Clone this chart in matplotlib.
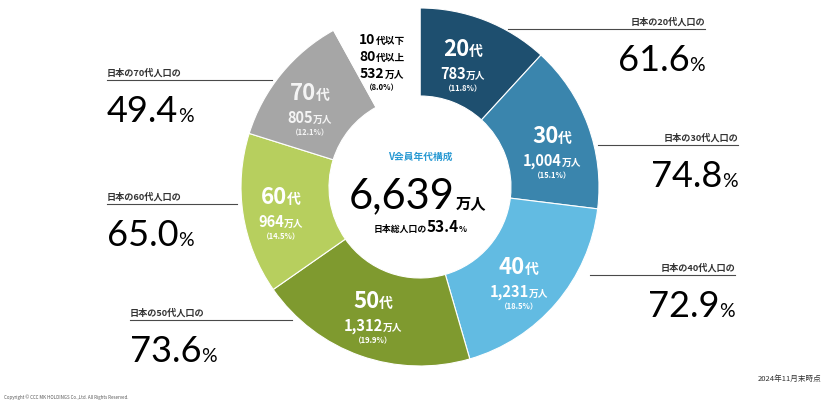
import matplotlib
matplotlib.use("Agg")
import matplotlib.pyplot as plt

plt.rcParams["font.family"] = ["Noto Sans CJK JP", "DejaVu Sans"]

# V会員 年代構成 (万人)
groups = ["20代", "30代", "40代", "50代", "60代", "70代", "10代以下\n80代以上"]
members = [783, 1004, 1231, 1312, 964, 805, 532]
shares = ["11.8%", "15.1%", "18.5%", "19.9%", "14.5%", "12.1%", "8.0%"]
colors = ["#1e4f6f", "#3a85ad", "#62bbe2", "#7f9a2f", "#b7cf5e", "#a6a6a6", "none"]

# 日本の各年代人口に占める割合
japan_labels = ["日本の20代人口の", "日本の30代人口の", "日本の40代人口の",
                "日本の50代人口の", "日本の60代人口の", "日本の70代人口の"]
japan_pct = ["61.6", "74.8", "72.9", "73.6", "65.0", "49.4"]

total = "6,639"
total_share = "53.4"

W, H = 823, 401
fig = plt.figure(figsize=(W / 100, H / 100), dpi=100)
ax = fig.add_axes([0, 0, 1, 1])


def Y(py):
    return H - py


cx, cy, R = 420, 187, 179
ax.pie(members, colors=colors, startangle=90, counterclock=False,
       center=(cx, Y(cy)), radius=R,
       wedgeprops=dict(width=88, edgecolor="white", linewidth=0.8))
ax.set_xlim(0, W)
ax.set_ylim(0, H)
ax.axis("off")

renderer = fig.canvas.get_renderer()


def run(x, py, parts, ha="center", color="black"):
    """parts: list of (text, size, weight, family) drawn on one baseline"""
    texts = [ax.text(0, Y(py), s, fontsize=sz, fontweight=wt, color=color,
                     va="baseline", ha="left", family=fam)
             for s, sz, wt, fam in parts]
    widths = [t.get_window_extent(renderer).width for t in texts]
    tot = sum(widths)
    if ha == "center":
        x0 = x - tot / 2
    elif ha == "right":
        x0 = x - tot
    else:
        x0 = x
    for t, w in zip(texts, widths):
        t.set_x(x0)
        x0 += w
    return texts


JP = ["Noto Sans CJK JP", "DejaVu Sans"]
NUM = ["Lato", "Noto Sans CJK JP"]

# labels inside the ring
label_pos = [(463, 56), (552, 143), (519, 274), (373, 308), (281, 204), (310, 100)]
label_col = ["white"] * 5 + ["#f4f4f4"]
for (x, py), g, m, s, c in zip(label_pos, groups, members, shares, label_col):
    run(x, py, [(g[:2], 16, "bold", JP), (g[2:], 10, "bold", JP)], color=c)
    run(x, py + 23, [(f"{m:,}", 10.5, "bold", JP), ("万人", 7, "bold", JP)], color=c)
    ax.text(x, Y(py + 35), f"（{s}）", fontsize=5.5, fontweight="bold",
            color=c, ha="center", va="baseline")

# 10代以下 / 80代以上 (gap)
gx = 382
for i, line in enumerate(groups[6].split("\n")):
    run(gx, 44 + i * 17, [(line[:2], 10, "bold", JP), (line[2:], 7, "bold", JP)])
run(gx, 78, [(f"{members[6]:,}", 10, "bold", JP), ("万人", 7, "bold", JP)])
ax.text(gx, Y(90), f"（{shares[6]}）", fontsize=5.5, fontweight="bold",
        ha="center", va="baseline")

# centre
ax.text(cx, Y(160), "V会員年代構成", fontsize=7, fontweight="bold",
        color="#2a9ad3", ha="center", va="baseline")
run(455, 208, [(total, 30, "normal", NUM)], ha="right")
run(456, 208, [("万人", 11, "bold", JP)], ha="left")
run(cx, 232, [("日本総人口の", 6.4, "bold", JP), (total_share, 11, "bold", JP),
              ("%", 6, "bold", JP)])

# outside annotations: (label index, line x0, line x1, line y, side)
outer = [(0, 508, 705, 29, "right"), (1, 598, 738, 145, "right"),
         (2, 590, 735, 275, "right"), (3, 130, 292, 320, "left"),
         (4, 107, 237, 204, "left"), (5, 107, 272, 80, "left")]
for i, x0, x1, ly, side in outer:
    ax.plot([x0, x1], [Y(ly), Y(ly)], color="#4a4a4a", lw=0.8)
    tx = x1 if side == "right" else x0
    ax.text(tx, Y(ly - 4), japan_labels[i], fontsize=6.6, fontweight="bold",
            color="#333333", ha=side, va="baseline")
    run(tx, ly + 42, [(japan_pct[i], 26, "normal", NUM), ("%", 14, "normal", NUM)],
        ha=side)

ax.text(W - 2, Y(381), "2024年11月末時点", fontsize=5.5, ha="right", va="baseline",
        color="#333333")
ax.text(4, Y(399), "Copyright © CCC MK HOLDINGS Co.,Ltd. All Rights Reserved.",
        fontsize=3.2, ha="left", va="baseline", color="#555555")

fig.savefig("out.png", dpi=100, facecolor="white")
